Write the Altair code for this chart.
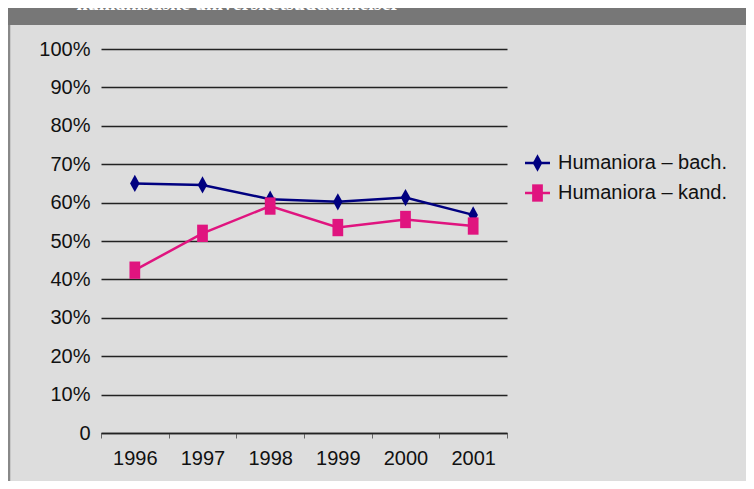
import altair as alt
import pandas as pd

years = ["1996", "1997", "1998", "1999", "2000", "2001"]
series_names = ["Humaniora – bach.", "Humaniora – kand."]
bach = [0.650, 0.646, 0.609, 0.602, 0.613, 0.568]
kand = [0.424, 0.520, 0.591, 0.535, 0.556, 0.539]
y_ticks = [0.0, 0.1, 0.2, 0.3, 0.4, 0.5, 0.6, 0.7, 0.8, 0.9, 1.0]
title_text = "humanistiske universitetsuddannelser"

colors = ["#000080", "#e0147f"]
diamond = "M0,-1L0.55,0L0,1L-0.55,0Z"
square = "M-0.62,-1H0.62V1H-0.62Z"
shapes = [diamond, square]

rows = []
for s, vals in zip(series_names, [bach, kand]):
    for yr, v in zip(years, vals):
        rows.append({"year": yr, "value": v, "series": s})
df = pd.DataFrame(rows)

FONT = "Liberation Sans"
W, H = 406, 384
MSIZE = 300

x_enc = alt.X(
    "year:O",
    bandPosition=0.5,
    scale=alt.Scale(type="band", domain=years, paddingInner=0, paddingOuter=0),
    axis=alt.Axis(
        title=None, labelAngle=0, tickBand="extent", grid=False,
        domainColor="#222222", domainWidth=1.5, tickColor="#666666", tickSize=5,
        tickWidth=1, labelFontSize=20, labelFont=FONT, labelColor="#111111",
        labelPadding=10,
    ),
)
y_enc = alt.Y(
    "value:Q",
    scale=alt.Scale(domain=[0, 1], nice=False, zero=True),
    axis=alt.Axis(
        title=None, values=y_ticks, grid=True, gridColor="#222222", gridWidth=1.5,
        domain=False, ticks=False, labelPadding=11, labelFontSize=20, labelFont=FONT,
        labelColor="#111111",
        labelExpr="datum.value == 0 ? '0' : format(datum.value, '.0%')",
    ),
)
color_enc = alt.Color("series:N", scale=alt.Scale(domain=series_names, range=colors), legend=None)
shape_enc = alt.Shape("series:N", scale=alt.Scale(domain=series_names, range=shapes), legend=None)

base = alt.Chart(df)
lines = base.mark_line(strokeWidth=2.5).encode(x=x_enc, y=y_enc, color=color_enc)
points = base.mark_point(filled=True, opacity=1, size=MSIZE).encode(
    x=x_enc, y=y_enc, color=color_enc, shape=shape_enc
)

one = alt.Data(values=[{"t": title_text}])
band = alt.Chart(one).mark_rect(color="#777777").encode(
    x=alt.value(-93), x2=alt.value(645), y=alt.value(-41), y2=alt.value(-24)
)
title_mark = alt.Chart(one).mark_text(
    font="Liberation Serif", fontWeight="bold", fontSize=20, color="white",
    baseline="alphabetic", align="center",
).encode(x=alt.value(137), y=alt.value(-39), text="t:N")
border = alt.Chart(one).mark_rule(color="#888888", strokeWidth=2.5).encode(
    x=alt.value(-92), y=alt.value(-24), y2=alt.value(432)
)

legend_layers = []
leg_y = [114, 144]
for i, name in enumerate(series_names):
    d = alt.Data(values=[{"s": name}])
    legend_layers.append(
        alt.Chart(d).mark_rule(color=colors[i], strokeWidth=2.5).encode(
            x=alt.value(424), x2=alt.value(449), y=alt.value(leg_y[i])
        )
    )
    legend_layers.append(
        alt.Chart(d).mark_point(filled=True, opacity=1, size=MSIZE, color=colors[i], shape=shapes[i]).encode(
            x=alt.value(436.5), y=alt.value(leg_y[i])
        )
    )
    legend_layers.append(
        alt.Chart(d).mark_text(
            font=FONT, fontSize=20, color="#111111", align="left", baseline="middle"
        ).encode(x=alt.value(457), y=alt.value(leg_y[i]), text="s:N")
    )

chart = alt.layer(band, title_mark, border, lines, points, *legend_layers).properties(
    width=W, height=H,
    autosize=alt.AutoSizeParams(type="none"),
    padding={"left": 93, "top": 41, "right": 239, "bottom": 48},
    background="#dddddd",
).configure_view(stroke=None)

chart.save("out.html", embed_options={"renderer": "svg", "actions": False})
